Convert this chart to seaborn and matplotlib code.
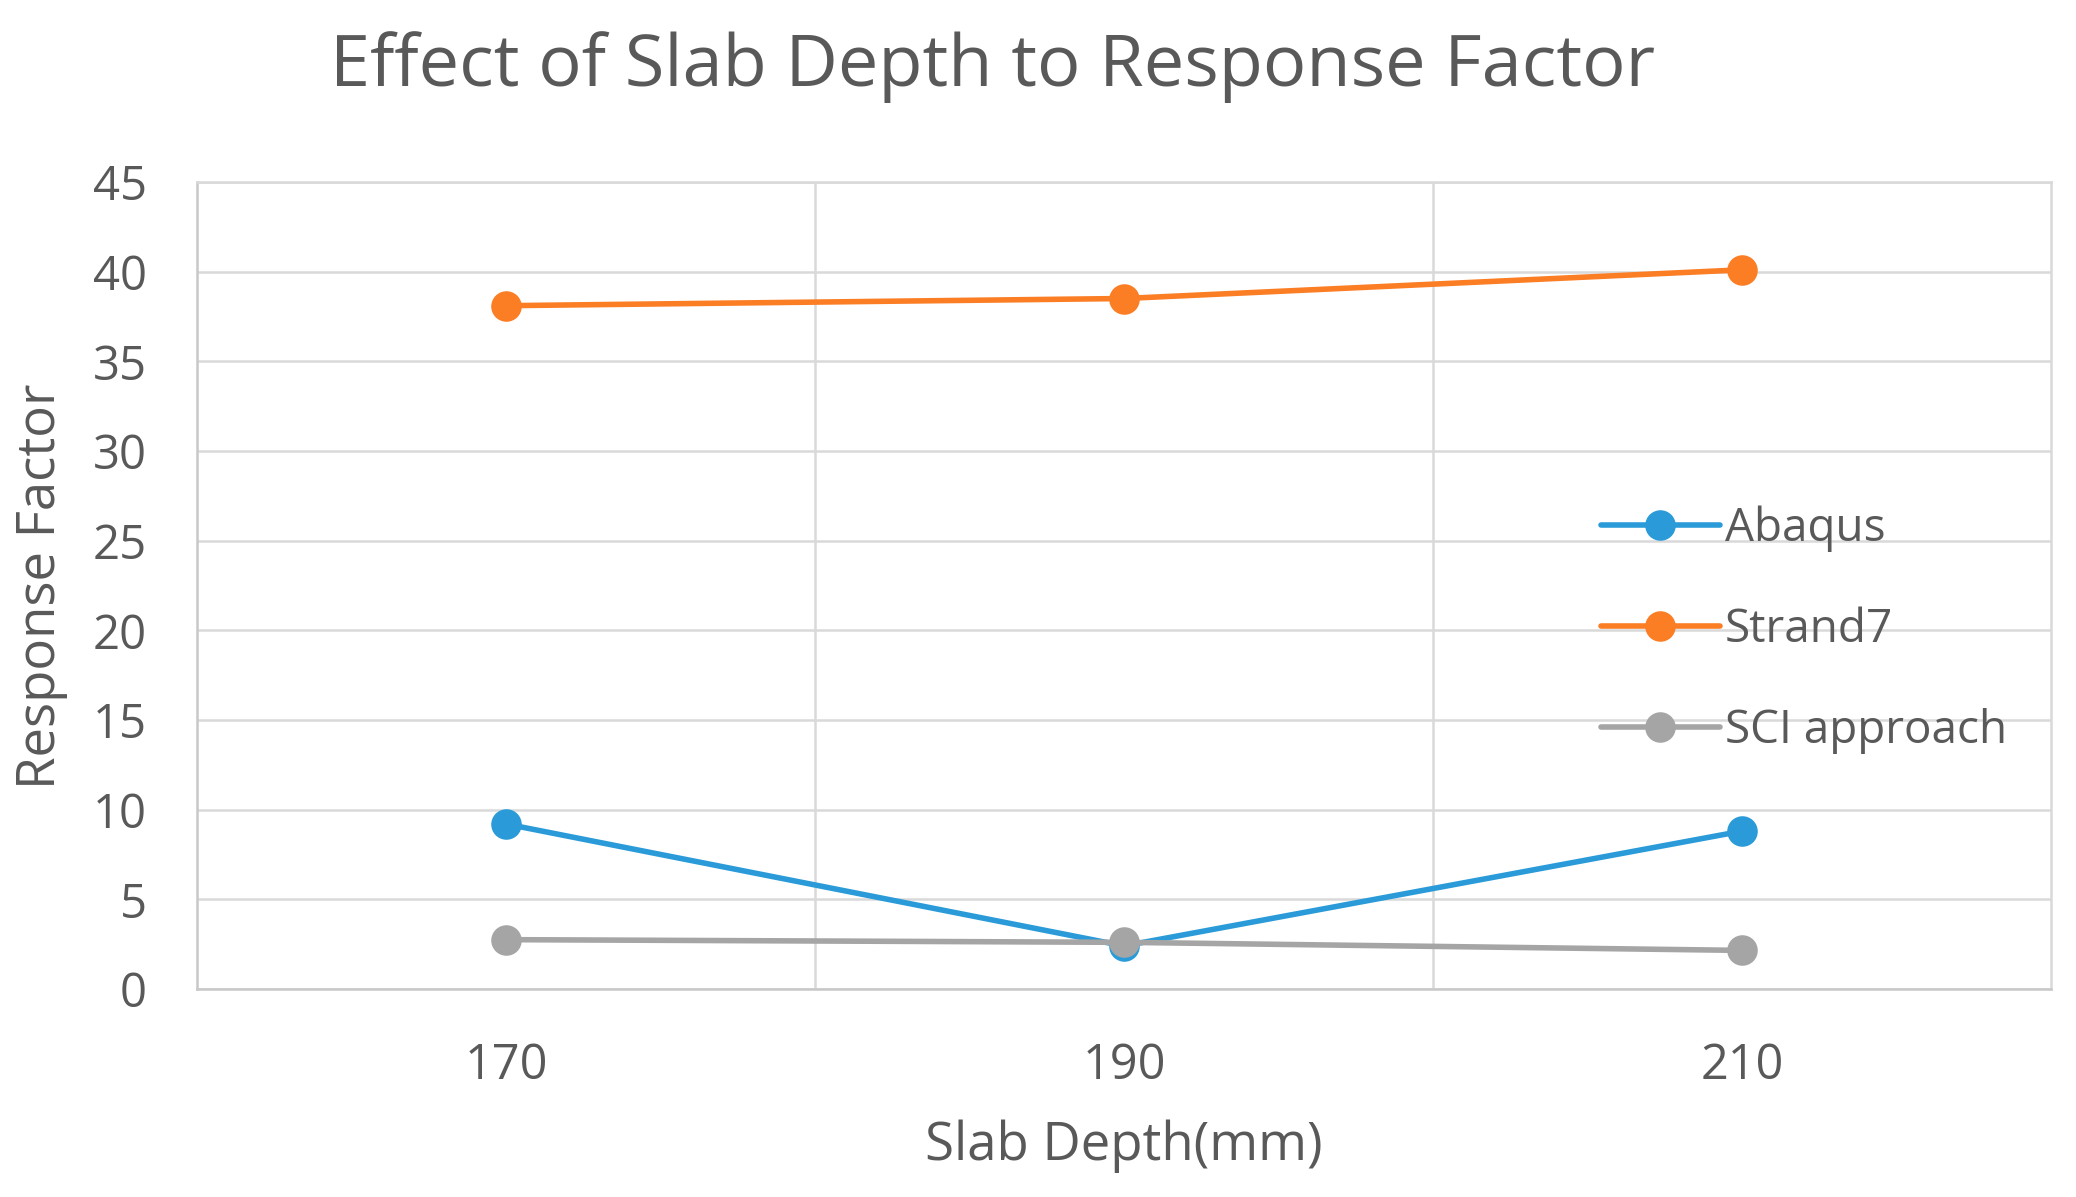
"""Effect of slab depth on response factor, redrawn with seaborn."""
import matplotlib

matplotlib.use("Agg")
import matplotlib.pyplot as plt
import pandas as pd
import seaborn as sns

slab_depths = ["170", "190", "210"]
abaqus = [9.2, 2.4, 8.8]
strand7 = [38.1, 38.5, 40.1]
sci_approach = [2.75, 2.6, 2.15]

series_names = ["Abaqus", "Strand7", "SCI approach"]
palette = {"Abaqus": "#2a9bd8", "Strand7": "#fb7d24", "SCI approach": "#a5a5a5"}

df = pd.DataFrame(
    {
        "depth": slab_depths * 3,
        "value": abaqus + strand7 + sci_approach,
        "series": [s for s in series_names for _ in slab_depths],
    }
)

sns.set_theme(style="white")
plt.rcParams["font.family"] = ["Open Sans", "DejaVu Sans"]

fig = plt.figure(figsize=(20.76, 11.97), dpi=100)
ax = fig.add_axes([0.0949, 0.1738, 0.893, 0.6742])

sns.lineplot(
    data=df, x="depth", y="value", hue="series", hue_order=series_names, palette=palette,
    marker="o", markersize=22, markeredgewidth=0, linewidth=4, sort=False, ax=ax,
)

ax.set_xlim(-0.5, 2.5)
ax.set_ylim(0, 45)
ax.set_yticks(range(0, 46, 5))
ax.set_xticks([0.5, 1.5], minor=True)
ax.grid(axis="y", which="major", color="#d9d9d9", linewidth=1.8)
ax.grid(axis="x", which="minor", color="#d9d9d9", linewidth=1.8)
ax.set_axisbelow(True)
for side, spine in ax.spines.items():
    spine.set_color("#d9d9d9" if side in ("top", "right") else "#c8c8c8")
    spine.set_linewidth(1.8)

ax.tick_params(axis="both", which="both", length=0)
ax.tick_params(axis="y", pad=36, labelsize=34, labelcolor="#595959")
ax.tick_params(axis="x", pad=38, labelsize=35, labelcolor="#595959")

ax.set_xlabel("")
ax.set_ylabel("")
fig.text(0.5414, 0.042, "Slab Depth(mm)", ha="center", va="center", fontsize=38,
         color="#595959")
fig.text(0.020, 0.51, "Response Factor", ha="center", va="center", rotation=90,
         fontsize=38, color="#595959")
fig.text(0.478, 0.944, "Effect of Slab Depth to Response Factor", ha="center", va="center",
         fontsize=52, color="#595959")

leg = ax.legend(
    loc="center left", bbox_to_anchor=(0.735, 0.445), frameon=False, fontsize=33,
    handlelength=2.6, handletextpad=0.1, labelspacing=1.2, labelcolor="#595959",
)
for h in leg.legend_handles:
    h.set_markersize(22)
    h.set_linewidth(4)

fig.savefig("out.png", dpi=100)
